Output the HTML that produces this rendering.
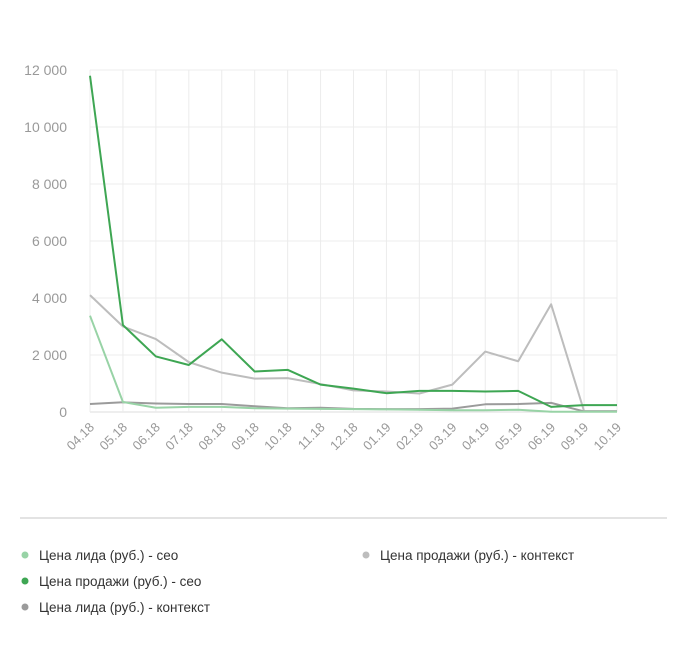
<!DOCTYPE html>
<html><head><meta charset="utf-8"><style>
body{margin:0;background:#fff;font-family:"Liberation Sans",sans-serif;}
svg{display:block}
</style></head><body>
<svg id="chart" width="682" height="664" xmlns="http://www.w3.org/2000/svg">
<g id="grid"></g>
<g id="yaxis"></g>
<g id="xaxis"></g>
<g id="series"></g>
<line x1="20" y1="518" x2="667" y2="518" stroke="#e3e3e3" stroke-width="2"/>
<g id="legend"></g>
</svg>
<script>
const categories=["04.18","05.18","06.18","07.18","08.18","09.18","10.18","11.18","12.18","01.19","02.19","03.19","04.19","05.19","06.19","09.19","10.19"];
const yTicks=[0,2000,4000,6000,8000,10000,12000];
const yTickLabels=["0","2 000","4 000","6 000","8 000","10 000","12 000"];
const leadSeo=[3380,350,150,180,180,130,120,110,100,90,80,60,60,80,10,10,10];
const saleSeo=[11800,3050,1950,1650,2550,1420,1480,960,820,660,740,740,720,740,180,240,240];
const leadContext=[280,340,300,280,280,200,130,150,110,100,100,120,270,280,320,20,20];
const saleContext=[4100,3000,2560,1750,1380,1170,1190,980,760,720,650,960,2120,1780,3780,30,30];
const seriesNames=["Цена лида (руб.) - сео","Цена продажи (руб.) - сео","Цена лида (руб.) - контекст","Цена продажи (руб.) - контекст"];

const NS="http://www.w3.org/2000/svg";
const X0=90,X1=617,Y0=412,Y1=70,YMAX=12000;
const x=i=>X0+i*(X1-X0)/(categories.length-1);
const y=v=>Y0-v/YMAX*(Y0-Y1);
function mk(tag,attrs,parent){const e=document.createElementNS(NS,tag);for(const k in attrs)e.setAttribute(k,attrs[k]);parent.appendChild(e);return e;}
const grid=document.getElementById('grid'),ya=document.getElementById('yaxis'),xa=document.getElementById('xaxis'),sg=document.getElementById('series'),lg=document.getElementById('legend');
yTicks.forEach((t,i)=>{
  const l=mk('line',{x1:X0,x2:X1,y1:y(t),y2:y(t),stroke:i===0?'#dcdcdc':'#ececec','stroke-width':1},grid);
  
  
  const tx=mk('text',{x:67,y:y(t)+5,'text-anchor':'end','font-size':14,fill:'#999'},ya);
  tx.textContent=yTickLabels[i];
  
  
});
categories.forEach((c,i)=>{
  const l=mk('line',{x1:x(i),x2:x(i),y1:Y1,y2:Y0,stroke:'#ececec','stroke-width':1},grid);
  
  
  const tx=mk('text',{x:x(i)+5,y:428,'text-anchor':'end','font-size':13,fill:'#999',transform:`rotate(-45 ${x(i)+5} 428)`},xa);
  tx.textContent=c;
  
  
});
const data=[leadSeo,saleSeo,leadContext,saleContext];
const colors=["#98d3a6","#3ea653","#9b9b9b","#bdbdbd"];
const order=[3,2,0,1];
order.forEach(s=>{
  const p=mk('polyline',{points:data[s].map((v,i)=>x(i)+','+y(v)).join(' '),fill:'none',stroke:colors[s],'stroke-width':2,'stroke-linejoin':'round'},sg);
  
  
});
const legPos=[[25,555],[25,581],[25,607],[366,555]];
seriesNames.forEach((n,s)=>{
  const g=mk('g',{},lg);
  
  
  mk('circle',{cx:legPos[s][0],cy:legPos[s][1],r:3.5,fill:colors[s]},g);
  const t=mk('text',{x:legPos[s][0]+14,y:legPos[s][1]+5,'font-size':13.5,fill:'#333'},g);
  t.textContent=n;
});
</script>
</body></html>
